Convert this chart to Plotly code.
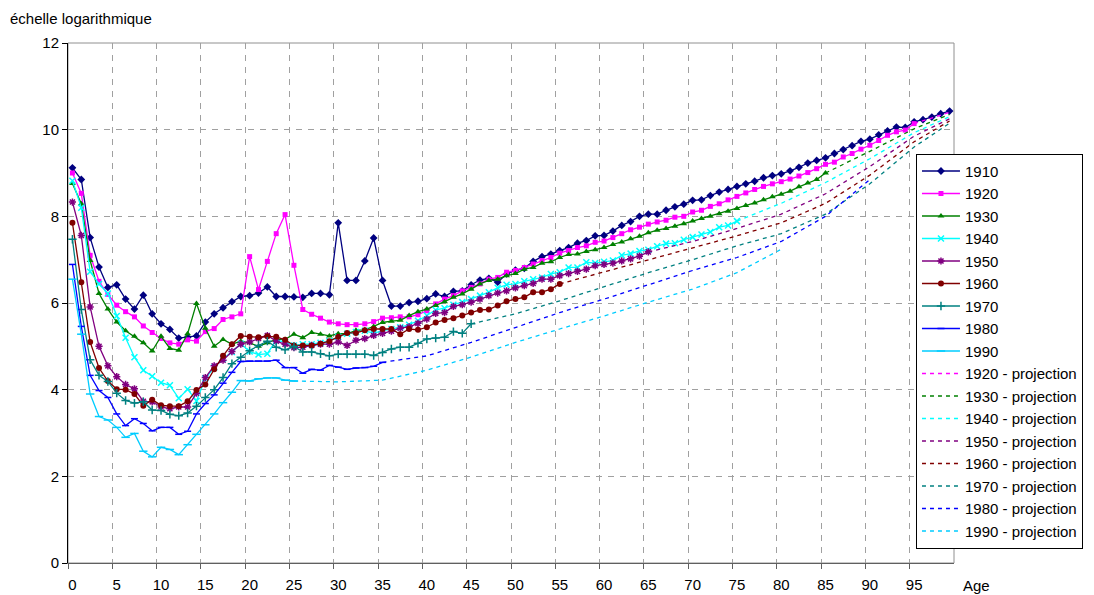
import plotly.graph_objects as go

# ---------------- data ----------------
ages = list(range(100))
tick_ages = list(range(0, 100, 5))

v1910 = [9.12, 8.85, 7.51, 6.83, 6.36, 6.42, 6.09, 5.86, 6.18, 5.75,
         5.52, 5.39, 5.19, 5.21, 5.24, 5.56, 5.75, 5.89, 6.03, 6.15,
         6.17, 6.23, 6.37, 6.15, 6.15, 6.14, 6.13, 6.22, 6.22, 6.19,
         7.85, 6.52, 6.52, 6.97, 7.50, 6.52, 5.93, 5.93, 6.01, 6.04,
         6.10, 6.21, 6.15, 6.27, 6.28, 6.42, 6.53, 6.57, 6.48, 6.67,
         6.76, 6.80, 6.96, 7.07, 7.13, 7.21, 7.28, 7.38, 7.44, 7.55,
         7.56, 7.66, 7.79, 7.88, 8.00, 8.05, 8.05, 8.14, 8.22, 8.28,
         8.37, 8.38, 8.48, 8.56, 8.62, 8.69, 8.75, 8.81, 8.89, 8.94,
         8.98, 9.05, 9.13, 9.23, 9.29, 9.35, 9.45, 9.54, 9.63, 9.73,
         9.78, 9.88, 9.97, 10.06, 10.05, 10.18, 10.23, 10.29, 10.37, 10.43]

v1920 = [9.00, 8.53, 7.10, 6.50, 6.20, 5.95, 5.80, 5.68, 5.47, 5.32,
         5.18, 5.08, 5.05, 5.15, 5.12, 5.34, 5.41, 5.62, 5.68, 5.75,
         7.07, 6.31, 6.96, 7.60, 8.04, 6.87, 5.85, 5.74, 5.65, 5.56,
         5.52, 5.50, 5.50, 5.52, 5.57, 5.65, 5.66, 5.68, 5.68, 5.73,
         5.82, 5.98, 6.09, 6.17, 6.28, 6.36, 6.44, 6.55, 6.59, 6.71,
         6.75, 6.82, 6.90, 6.98, 7.05, 7.15, 7.21, 7.28, 7.32, 7.40,
         7.43, 7.51, 7.60, 7.69, 7.75, 7.82, 7.87, 7.91, 7.98, 8.00,
         8.10, 8.14, 8.23, 8.29, 8.38, 8.46, 8.54, 8.62, 8.69, 8.75,
         8.80, 8.86, 8.93, 9.01, 9.10, 9.20, 9.25, 9.37, 9.45, 9.55,
         9.64, 9.75, 9.87, 9.95, 9.99, 10.14]

v1930 = [8.76, 8.29, 6.98, 6.22, 5.86, 5.56, 5.36, 5.23, 5.08, 4.89,
         5.23, 4.95, 4.91, 5.29, 5.99, 5.42, 5.00, 5.16, 5.05, 5.12,
         5.08, 5.00, 5.08, 5.16, 5.16, 5.28, 5.20, 5.32, 5.28, 5.24,
         5.29, 5.29, 5.37, 5.38, 5.46, 5.55, 5.58, 5.60, 5.71, 5.80,
         5.86, 5.94, 6.03, 6.13, 6.21, 6.32, 6.44, 6.52, 6.55, 6.63,
         6.68, 6.78, 6.82, 6.92, 6.95, 7.05, 7.12, 7.13, 7.19, 7.23,
         7.28, 7.35, 7.41, 7.48, 7.54, 7.62, 7.68, 7.72, 7.77, 7.83,
         7.89, 7.95, 8.00, 8.06, 8.12, 8.18, 8.25, 8.31, 8.38, 8.45,
         8.51, 8.58, 8.68, 8.77, 8.85, 9.00]

v1940 = [8.82, 8.20, 6.72, 6.44, 6.22, 5.70, 5.20, 4.75, 4.45, 4.31,
         4.16, 4.10, 3.80, 4.01, 3.74, 4.26, 4.51, 4.72, 4.87, 5.06,
         4.88, 4.81, 4.83, 5.14, 5.10, 5.02, 5.05, 5.05, 5.08, 5.12,
         5.22, 5.29, 5.33, 5.36, 5.30, 5.36, 5.40, 5.44, 5.50, 5.59,
         5.71, 5.84, 5.88, 5.96, 6.02, 6.09, 6.17, 6.25, 6.35, 6.42,
         6.44, 6.50, 6.55, 6.59, 6.67, 6.71, 6.82, 6.82, 6.94, 6.92,
         6.95, 6.98, 7.10, 7.14, 7.20, 7.23, 7.31, 7.37, 7.38, 7.46,
         7.52, 7.58, 7.64, 7.75, 7.79, 7.89]

v1950 = [8.33, 7.56, 5.91, 5.00, 4.55, 4.30, 4.12, 4.02, 3.73, 3.72,
         3.60, 3.56, 3.60, 3.60, 3.92, 4.28, 4.55, 4.68, 4.88, 5.05,
         5.10, 5.18, 5.25, 5.12, 5.05, 4.97, 4.98, 5.02, 5.05, 5.05,
         5.10, 5.02, 5.14, 5.18, 5.25, 5.30, 5.35, 5.42, 5.45, 5.53,
         5.63, 5.76, 5.78, 5.92, 5.96, 6.02, 6.09, 6.17, 6.23, 6.28,
         6.35, 6.40, 6.45, 6.55, 6.55, 6.63, 6.68, 6.73, 6.78, 6.86,
         6.89, 6.92, 6.97, 7.02, 7.08, 7.18]

v1960 = [7.85, 6.48, 5.10, 4.50, 4.20, 4.01, 4.00, 3.90, 3.63, 3.77,
         3.64, 3.62, 3.62, 3.73, 3.99, 4.12, 4.47, 4.78, 5.05, 5.24,
         5.22, 5.21, 5.23, 5.22, 5.15, 5.02, 5.02, 5.02, 5.06, 5.12,
         5.22, 5.31, 5.31, 5.37, 5.40, 5.40, 5.40, 5.28, 5.40, 5.38,
         5.44, 5.55, 5.61, 5.65, 5.71, 5.78, 5.84, 5.85, 5.94, 6.04,
         6.09, 6.13, 6.25, 6.25, 6.32, 6.44]

v1970 = [7.47, 5.85, 4.69, 4.33, 4.19, 3.92, 3.75, 3.69, 3.72, 3.53,
         3.52, 3.43, 3.40, 3.46, 3.62, 3.82, 4.00, 4.28, 4.60, 4.75,
         4.90, 5.02, 5.12, 4.98, 4.92, 5.00, 4.87, 4.87, 4.83, 4.78,
         4.82, 4.82, 4.82, 4.82, 4.79, 4.86, 4.94, 4.98, 4.98, 5.07,
         5.17, 5.19, 5.21, 5.34, 5.30, 5.52]

v1980 = [6.89, 5.46, 4.33, 3.98, 3.82, 3.44, 3.17, 3.33, 3.22, 3.05,
         3.13, 3.13, 2.97, 3.04, 3.44, 3.68, 3.88, 4.15, 4.40, 4.65,
         4.66, 4.66, 4.66, 4.68, 4.51, 4.51, 4.38, 4.47, 4.45, 4.56,
         4.52, 4.47, 4.50, 4.51, 4.54, 4.63]

v1990 = [6.55, 5.28, 3.90, 3.38, 3.30, 3.13, 2.90, 2.99, 2.58, 2.45,
         2.67, 2.62, 2.50, 2.73, 2.97, 3.19, 3.44, 3.70, 3.94, 4.21,
         4.20, 4.25, 4.27, 4.27, 4.22, 4.20]

# projections (ages, values)
p1920_age = [95, 99]
p1920_val = [10.14, 10.40]
p1930_age = [85, 90, 95, 99]
p1930_val = [9.00, 9.50, 10.02, 10.35]
p1940_age = [75, 80, 85, 90, 95, 99]
p1940_val = [7.89, 8.30, 8.78, 9.33, 9.93, 10.30]
p1950_age = [65, 70, 75, 80, 85, 90, 95, 99]
p1950_val = [7.18, 7.42, 7.72, 8.05, 8.52, 9.15, 9.85, 10.25]
p1960_age = [55, 60, 65, 70, 75, 80, 85, 90, 95, 99]
p1960_val = [6.44, 6.72, 7.00, 7.28, 7.55, 7.85, 8.30, 8.95, 9.72, 10.20]
p1970_age = [45, 50, 55, 60, 65, 70, 75, 80, 85, 90, 95, 99]
p1970_val = [5.52, 5.75, 6.05, 6.38, 6.70, 7.00, 7.32, 7.60, 8.05, 8.75, 9.60, 10.15]
p1980_age = [35, 40, 45, 50, 55, 60, 65, 70, 75, 80, 85, 90]
p1980_val = [4.63, 4.78, 5.09, 5.44, 5.78, 6.09, 6.42, 6.75, 7.05, 7.42, 8.00, 8.85]
p1990_age = [25, 30, 35, 40, 45, 50, 55, 60, 65, 70, 75, 80]
p1990_val = [4.20, 4.18, 4.22, 4.45, 4.75, 5.09, 5.40, 5.70, 6.02, 6.32, 6.70, 7.24]

# ---------------- styles ----------------
FONT = "Liberation Sans, Arial, sans-serif"
series = [
    ("1910", v1910, "#000080", "diamond", 6, False),
    ("1920", v1920, "#FF00FF", "square", 5, False),
    ("1930", v1930, "#008000", "triangle-up", 6, False),
    ("1940", v1940, "#00FFFF", "x-thin-open", 6, True),
    ("1950", v1950, "#800080", "asterisk-open", 6, True),
    ("1960", v1960, "#800000", "circle", 6, False),
    ("1970", v1970, "#008080", "cross-thin-open", 6, True),
    ("1980", v1980, "#0000FF", "line-ew-open", 5, True),
    ("1990", v1990, "#00CCFF", "line-ew-open", 6, True),
]
projections = [
    ("1920 - projection", p1920_age, p1920_val, "#FF00FF"),
    ("1930 - projection", p1930_age, p1930_val, "#008000"),
    ("1940 - projection", p1940_age, p1940_val, "#00FFFF"),
    ("1950 - projection", p1950_age, p1950_val, "#800080"),
    ("1960 - projection", p1960_age, p1960_val, "#800000"),
    ("1970 - projection", p1970_age, p1970_val, "#008080"),
    ("1980 - projection", p1980_age, p1980_val, "#0000FF"),
    ("1990 - projection", p1990_age, p1990_val, "#00CCFF"),
]

fig = go.Figure()
for name, vals, color, sym, size, is_open in series:
    marker = dict(symbol=sym, size=size, color=color)
    if is_open:
        marker["line"] = dict(color=color, width=1.5)
    fig.add_trace(go.Scatter(
        x=ages[:len(vals)], y=vals, name=name, mode="lines+markers",
        line=dict(color=color, width=1.3), marker=marker))

for name, xs, vals, color in projections:
    fig.add_trace(go.Scatter(
        x=xs, y=vals, name=name, mode="lines",
        line=dict(color=color, width=1.3, dash="4px,4px")))

grid_color = "#A0A0A0"
fig.update_layout(
    width=1086, height=587,
    margin=dict(l=60, r=139, t=35, b=32),
    paper_bgcolor="white", plot_bgcolor="white",
    font=dict(family=FONT, size=15, color="black"),
    showlegend=True,
    legend=dict(x=0.956, y=0.787, xanchor="left", yanchor="top",
                bgcolor="white", bordercolor="black", borderwidth=1,
                font=dict(size=15), tracegroupgap=0, itemwidth=38,
                entrywidth=139, entrywidthmode="pixels"),
    xaxis=dict(range=[-0.5, 99.5], tickmode="array", tickvals=tick_ages,
               ticktext=[str(a) for a in tick_ages], ticks="", showgrid=False,
               zeroline=False, showline=True, linecolor="#606060", linewidth=1,
               tickfont=dict(size=15), ticklabelstandoff=8, automargin=False,
               minor=dict(tickmode="array",
                          tickvals=[a - 0.5 for a in tick_ages],
                          ticks="outside", ticklen=5, tickcolor="#606060",
                          showgrid=True, gridcolor=grid_color, griddash="6px,6px",
                          gridwidth=1)),
    yaxis=dict(range=[0, 12], tickmode="array", tickvals=[0, 2, 4, 6, 8, 10, 12],
               ticks="outside", ticklen=5, tickcolor="black", automargin=False,
               showgrid=True, gridcolor=grid_color, griddash="6px,6px", gridwidth=1,
               zeroline=False, showline=True, linecolor="black", linewidth=1,
               tickfont=dict(size=15)),
    shapes=[dict(type="rect", xref="paper", yref="paper", x0=0, x1=1, y0=0, y1=1,
                 line=dict(color="#909090", width=1), layer="below")],
    annotations=[
        dict(text="échelle logarithmique", xref="paper", yref="paper",
             x=-0.0676, y=1.048, xanchor="left", yanchor="middle",
             showarrow=False, font=dict(size=15)),
        dict(text="Age", xref="paper", yref="paper",
             x=1.0079, y=-0.044, xanchor="left", yanchor="middle",
             showarrow=False, font=dict(size=15)),
    ],
)

fig.write_html("out.html")
